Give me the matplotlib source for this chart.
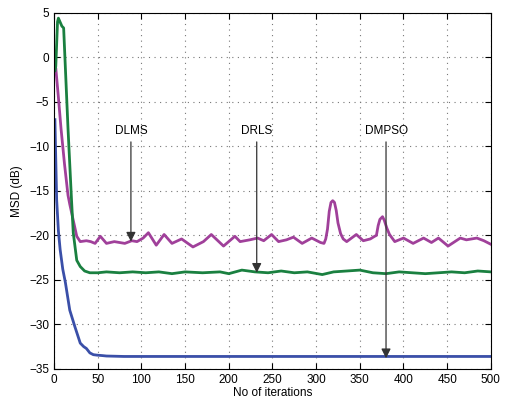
import matplotlib
matplotlib.use('Agg')
import matplotlib.pyplot as plt

plt.rcParams['font.family'] = ['Liberation Sans', 'DejaVu Sans']

# DLMS (magenta)
dlms_x = [1, 2, 5, 8, 12, 16, 18, 22, 26, 30, 37, 42, 47, 53, 60, 69, 81, 89, 95, 102,
          108, 117, 126, 135, 146, 159, 171, 180, 194, 207, 213, 224, 233, 240, 249, 257,
          266, 274, 284, 295, 305, 309, 311, 313, 315, 317, 319, 321, 323, 325, 328, 331,
          335, 346, 354, 362, 367, 369, 371, 373, 376, 378, 381, 384, 390, 400, 411, 423,
          432, 440, 451, 465, 472, 484, 492, 500]
dlms_y = [-1.5, -1.2, -4.5, -8.0, -12.0, -15.5, -16.5, -18.3, -20.1, -20.7, -20.6, -20.7,
          -20.9, -20.1, -20.9, -20.7, -20.9, -20.6, -20.7, -20.3, -19.7, -21.1, -19.9,
          -20.9, -20.4, -21.3, -20.7, -19.9, -21.2, -20.1, -20.7, -20.5, -20.3, -20.6,
          -19.9, -20.7, -20.5, -20.2, -20.9, -20.3, -20.8, -20.9, -20.4, -19.3, -17.3,
          -16.3, -16.1, -16.3, -17.2, -18.6, -19.8, -20.4, -20.7, -19.9, -20.6, -20.4,
          -20.1, -20.0, -18.9, -18.2, -17.9, -18.3, -19.2, -19.9, -20.7, -20.3, -20.9,
          -20.3, -20.8, -20.3, -21.2, -20.3, -20.5, -20.3, -20.6, -21.0]

# DRLS (green)
drls_x = [1, 2, 4, 5, 9, 11, 16, 20, 22, 26, 30, 35, 41, 50, 60, 75, 90, 105, 120, 135,
          150, 170, 190, 200, 215, 230, 245, 260, 275, 290, 307, 320, 335, 350, 365, 380,
          395, 410, 425, 440, 455, 470, 485, 500]
drls_y = [-1.5, -1.0, 4.0, 4.4, 3.5, 3.3, -8.0, -16.0, -19.7, -22.8, -23.5, -24.0,
          -24.2, -24.2, -24.1, -24.2, -24.1, -24.2, -24.1, -24.3, -24.1, -24.2, -24.1,
          -24.3, -23.9, -24.1, -24.2, -24.0, -24.2, -24.1, -24.4, -24.1, -24.0, -23.9,
          -24.2, -24.3, -24.1, -24.2, -24.3, -24.2, -24.1, -24.2, -24.0, -24.1]

# DMPSO (blue)
dmpso_x = [1, 3, 5, 7, 10, 13, 18, 24, 30, 34, 37, 41, 45, 49, 55, 60, 80, 120, 200, 300,
           400, 500]
dmpso_y = [-7.0, -16.0, -19.5, -21.6, -23.8, -25.3, -28.4, -30.3, -32.1, -32.5, -32.7,
           -33.2, -33.4, -33.45, -33.5, -33.55, -33.6, -33.6, -33.6, -33.6, -33.6, -33.6]

labels = ['DLMS', 'DRLS', 'DMPSO']
label_x = [88, 232, 380]
arrow_tip_y = [-20.7, -24.2, -33.8]

fig = plt.figure(figsize=(5.05, 4.01), dpi=100)
ax = fig.add_axes([0.107, 0.080, 0.865, 0.888])

ax.plot(dlms_x, dlms_y, color='#a0409a', linewidth=2, solid_joinstyle='round')
ax.plot(drls_x, drls_y, color='#1a8040', linewidth=2, solid_joinstyle='round')
ax.plot(dmpso_x, dmpso_y, color='#3a4fa8', linewidth=2, solid_joinstyle='round')

for name, lx, ty in zip(labels, label_x, arrow_tip_y):
    ax.annotate('', xy=(lx, ty), xytext=(lx, -9.5),
                arrowprops=dict(arrowstyle='-|>', color='#333333', lw=0.9,
                                mutation_scale=14, shrinkA=0, shrinkB=0))
    ax.text(lx, -9.0, name, ha='center', va='bottom', fontsize=8.5)

ax.set_xlim(0, 500)
ax.set_ylim(-35, 5)
ax.set_xticks(range(0, 501, 50))
ax.set_yticks(range(-35, 6, 5))
ax.set_yticklabels([str(v).replace('-', '\u2212') for v in range(-35, 6, 5)])
ax.tick_params(direction='in', labelsize=8.5, length=4, top=True, right=True)
ax.grid(True, linestyle=(0, (1, 4)), color='#777777', linewidth=0.8)
ax.set_xlabel('No of iterations', fontsize=8.5, labelpad=1)
ax.set_ylabel('MSD (dB)', fontsize=8.5, labelpad=4)

fig.savefig('out.png', dpi=100)
